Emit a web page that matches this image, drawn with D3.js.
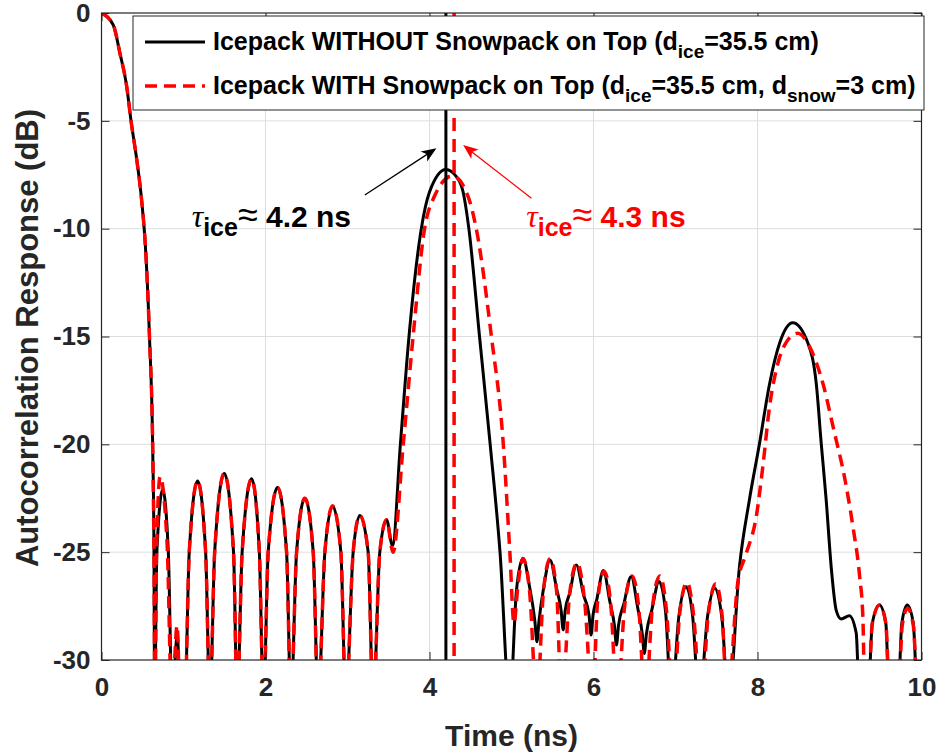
<!DOCTYPE html>
<html>
<head>
<meta charset="utf-8">
<script src="https://cdn.jsdelivr.net/npm/d3@7"></script>
<style>
body { margin: 0; background: #fff; }
svg text { font-family: "Liberation Sans", Arial, Helvetica, sans-serif; font-weight: bold; }
</style>
</head>
<body>
<div id="frame"></div>
<script>

// time axis (ns) and response (dB); -32 marks a null below the -30 floor
var timeNoSnow = [0, 0.144, 0.225, 0.307, 0.36, 0.43, 0.49, 0.54, 0.585, 0.625, 0.64, 0.648,
  0.675, 0.746, 0.815, 0.862, 0.924, 0.962,
  1.015, 1.07, 1.172, 1.27, 1.322, 1.38, 1.497, 1.61, 1.655,
  1.715, 1.831, 1.925, 1.975, 2.033, 2.147, 2.257, 2.31,
  2.379, 2.48, 2.582, 2.642, 2.724, 2.818, 2.919, 2.98,
  3.069, 3.15, 3.252, 3.313, 3.394, 3.476, 3.549,
  3.645, 3.75, 3.90, 4.0, 4.2, 4.33, 4.41, 4.48, 4.61, 4.74, 4.86, 4.98,
  5.06, 5.14, 5.22, 5.285, 5.31, 5.335, 5.39, 5.47, 5.55, 5.605, 5.63, 5.655, 5.71, 5.79, 5.88, 5.945, 5.97, 5.995,
  6.04, 6.12, 6.20, 6.255, 6.28, 6.305, 6.37, 6.46, 6.54, 6.595, 6.62, 6.645, 6.71, 6.80, 6.88, 6.95,
  7.04, 7.13, 7.21, 7.29, 7.39, 7.48, 7.57, 7.645,
  7.78, 7.90, 8.025, 8.147, 8.27, 8.43, 8.614, 8.717, 8.777, 8.838, 8.899, 8.96,
  9.02, 9.12, 9.204, 9.245, 9.345, 9.40, 9.487, 9.565, 9.61, 9.71, 9.76, 9.826, 9.90, 9.955, 10];
var dbNoSnow = [0, -0.56, -1.87, -3.4, -5.0, -6.8, -8.7, -11.1, -15.0, -20.3, -25, -32,
  -25, -22.1, -25, -32, -28.8, -32,
  -32, -25, -21.7, -25, -32, -25, -21.35, -25, -32,
  -25, -21.6, -25, -32, -25, -22.0, -25, -32,
  -25, -22.5, -25, -32, -25, -22.86, -25, -32,
  -25, -23.3, -25, -32, -25, -23.5, -24.7,
  -20, -15, -10, -8.3, -7.26, -7.6, -8.3, -10, -15, -20, -25, -32,
  -26.8, -25.28, -26.6, -28.2, -29.15, -28.2, -26.7, -25.36, -26.7, -27.7, -28.6, -27.7, -26.9, -25.6, -27.0, -27.9, -28.84, -27.9,
  -27.2, -25.85, -27.3, -28.4, -29.3, -28.4, -27.4, -26.13, -27.6, -28.8, -29.7, -28.8, -27.7, -26.36, -27.8, -32,
  -28.0, -26.6, -28.0, -32, -28.0, -26.67, -28.2, -32,
  -25.67, -22.6, -19.95, -17.2, -15.3, -14.36, -15.3, -17.2, -19.95, -22.6, -25.7, -27.7,
  -28.1, -27.95, -28.76, -32, -32, -28.3, -27.45, -28.3, -32, -32, -28.3, -27.45, -28.3, -32, -31];

var timeSnow = [0, 0.144, 0.225, 0.307, 0.36, 0.43, 0.49, 0.54, 0.585, 0.625, 0.64, 0.652,
  0.672, 0.715, 0.80, 0.858, 0.922, 0.96,
  1.015, 1.07, 1.172, 1.27, 1.322, 1.38, 1.497, 1.61, 1.655,
  1.715, 1.831, 1.925, 1.975, 2.033, 2.147, 2.257, 2.31,
  2.379, 2.48, 2.582, 2.642, 2.724, 2.818, 2.919, 2.98,
  3.069, 3.15, 3.252, 3.313, 3.394, 3.476, 3.555,
  3.68, 3.80, 3.94, 4.06, 4.28, 4.47, 4.57, 4.755, 4.90, 4.98, 5.03,
  5.08, 5.14, 5.22, 5.31, 5.39, 5.47, 5.55, 5.61, 5.71, 5.80, 5.89, 5.99,
  6.05, 6.13, 6.21, 6.29, 6.38, 6.47, 6.55, 6.63, 6.72, 6.81, 6.89, 6.97,
  7.05, 7.14, 7.22, 7.31, 7.40, 7.49, 7.57, 7.63,
  7.76, 7.86, 7.985, 8.066, 8.147, 8.249, 8.37, 8.49, 8.635, 8.797, 8.94, 9.06,
  9.163, 9.245, 9.285, 9.31, 9.345, 9.40, 9.49, 9.565, 9.615, 9.715, 9.765, 9.83, 9.90, 9.96, 10];
var dbSnow = [0, -0.56, -1.87, -3.4, -5.0, -6.8, -8.7, -11.1, -15.0, -20.3, -25, -32,
  -24.8, -21.5, -24.6, -32, -28.4, -32,
  -32, -25, -21.7, -25, -32, -25, -21.35, -25, -32,
  -25, -21.6, -25, -32, -25, -22.0, -25, -32,
  -25, -22.5, -25, -32, -25, -22.86, -25, -32,
  -25, -23.3, -25, -32, -25, -23.5, -25.0,
  -20, -15, -10, -8.5, -7.55, -8.5, -10, -15, -20, -25, -28.3,
  -26.5, -25.3, -26.8, -32, -26.8, -25.3, -26.8, -32, -26.9, -25.5, -27.2, -32,
  -27.3, -25.9, -27.4, -32, -27.5, -26.1, -27.5, -32, -27.5, -26.1, -27.7, -32,
  -27.9, -26.4, -27.9, -32, -27.9, -26.47, -28.0, -32,
  -26.4, -25.1, -23.35, -21.0, -18.25, -16.24, -15.16, -14.85, -15.47, -17.17, -19.49, -21.5,
  -23.8, -26.1, -28, -32, -32, -28.3, -27.45, -28.3, -32, -32, -28.4, -27.6, -28.4, -32, -31];

var xTicks = [0, 2, 4, 6, 8, 10];
var yTicks = [0, -5, -10, -15, -20, -25, -30];

// delay markers (ns) and the annotation arrows [t0, dB0, t1, dB1]
var tauNoSnow = 4.2, tauSnow = 4.3;
var arrowNoSnow = [3.211, -8.44, 4.085, -6.27];
var arrowSnow = [5.243, -8.59, 4.41, -6.12];
var labelNoSnow = [1.1, -9.92];
var labelSnow = [5.18, -9.92];

var W = 941, H = 756;
var pLeft = 101.5, pRight = 921.5, pTop = 13, pBottom = 660;
var axisColor = '#262626';

var svg = d3.select('#frame').append('svg').attr('width', W).attr('height', H);

var x = d3.scaleLinear().domain([0, 10]).range([pLeft, pRight]);
var y = d3.scaleLinear().domain([-30, 0]).range([pBottom, pTop]);

// grid
svg.append('g').selectAll('line').data(xTicks.slice(1, -1)).join('line')
  .attr('x1', d => x(d)).attr('x2', d => x(d)).attr('y1', pTop).attr('y2', pBottom)
  .attr('stroke', '#dedede').attr('stroke-width', 1);
svg.append('g').selectAll('line').data(yTicks.slice(1, -1)).join('line')
  .attr('y1', d => y(d)).attr('y2', d => y(d)).attr('x1', pLeft).attr('x2', pRight)
  .attr('stroke', '#dedede').attr('stroke-width', 1);

// curves
svg.append('clipPath').attr('id', 'plotclip').append('rect')
  .attr('x', pLeft).attr('y', pTop).attr('width', pRight - pLeft).attr('height', pBottom - pTop);

var line = d3.line().x(d => x(d[0])).y(d => y(d[1])).curve(d3.curveMonotoneX);
var plot = svg.append('g').attr('clip-path', 'url(#plotclip)');

plot.append('path').datum(d3.zip(timeNoSnow, dbNoSnow)).attr('d', line)
  .attr('fill', 'none').attr('stroke', '#000').attr('stroke-width', 3).attr('stroke-linejoin', 'round');
plot.append('path').datum(d3.zip(timeSnow, dbSnow)).attr('d', line)
  .attr('fill', 'none').attr('stroke', '#ff0000').attr('stroke-width', 3.5).attr('stroke-dasharray', '12,7');

plot.append('line').attr('x1', x(tauNoSnow)).attr('x2', x(tauNoSnow)).attr('y1', pTop).attr('y2', pBottom)
  .attr('stroke', '#000').attr('stroke-width', 3);
plot.append('line').attr('x1', x(tauSnow)).attr('x2', x(tauSnow)).attr('y1', pTop).attr('y2', pBottom)
  .attr('stroke', '#ff0000').attr('stroke-width', 3.5).attr('stroke-dasharray', '13,8');

// axes, ticks pointing inward on all four sides
function styleAxis(g) {
  g.select('.domain').remove();
  g.selectAll('.tick line').attr('stroke', axisColor).attr('stroke-width', 1);
  g.selectAll('.tick text').attr('fill', axisColor).style('font-size', '26px');
}
svg.append('g').attr('transform', 'translate(0,' + pBottom + ')')
  .call(d3.axisBottom(x).tickValues(xTicks).tickSize(-8).tickPadding(18).tickFormat(d3.format('d')))
  .call(styleAxis);
svg.append('g').attr('transform', 'translate(0,' + pTop + ')')
  .call(d3.axisTop(x).tickValues(xTicks).tickSize(-8).tickFormat(''))
  .call(styleAxis);
svg.append('g').attr('transform', 'translate(' + pLeft + ',0)')
  .call(d3.axisLeft(y).tickValues(yTicks).tickSize(-8).tickPadding(11).tickFormat(d => d === 0 ? '0' : '-' + Math.abs(d)))
  .call(styleAxis);
svg.append('g').attr('transform', 'translate(' + pRight + ',0)')
  .call(d3.axisRight(y).tickValues(yTicks).tickSize(-8).tickFormat(''))
  .call(styleAxis);

svg.append('rect').attr('x', pLeft).attr('y', pTop).attr('width', pRight - pLeft).attr('height', pBottom - pTop)
  .attr('fill', 'none').attr('stroke', axisColor).attr('stroke-width', 1.2);

svg.append('text').attr('x', (pLeft + pRight) / 2).attr('y', 746).attr('text-anchor', 'middle')
  .attr('fill', axisColor).style('font-size', '30px').text('Time (ns)');
svg.append('text').attr('transform', 'translate(38,338) rotate(-90)')
  .attr('text-anchor', 'middle').attr('fill', axisColor).style('font-size', '31px')
  .text('Autocorrelation Response (dB)');

// arrows
function arrow(a, colour) {
  var x0 = x(a[0]), y0 = y(a[1]), x1 = x(a[2]), y1 = y(a[3]);
  var ang = Math.atan2(y1 - y0, x1 - x0);
  var len = 15, half = 6;
  var bx = x1 - len * Math.cos(ang), by = y1 - len * Math.sin(ang);
  var nx = x1 - 0.75 * len * Math.cos(ang), ny = y1 - 0.75 * len * Math.sin(ang);
  svg.append('line').attr('x1', x0).attr('y1', y0).attr('x2', nx).attr('y2', ny)
    .attr('stroke', colour).attr('stroke-width', 1.3);
  svg.append('path')
    .attr('d', 'M' + x1 + ',' + y1 +
      'L' + (bx + half * Math.sin(ang)) + ',' + (by - half * Math.cos(ang)) +
      'L' + nx + ',' + ny +
      'L' + (bx - half * Math.sin(ang)) + ',' + (by + half * Math.cos(ang)) + 'Z')
    .attr('fill', colour);
}
arrow(arrowNoSnow, '#000');
arrow(arrowSnow, '#ff0000');

function tauLabel(pos, value, colour) {
  var t = svg.append('text').attr('x', x(pos[0])).attr('y', y(pos[1])).attr('fill', colour).style('font-size', '30px');
  t.append('tspan').text('τ').style('font-family', '"Liberation Serif", serif').style('font-style', 'italic')
    .style('font-weight', 'normal').style('font-size', '32px');
  t.append('tspan').text('ice').attr('dy', 9).style('font-size', '25px');
  t.append('tspan').text('≈').attr('dy', -9).style('font-weight', 'normal').style('font-size', '36px');
  t.append('tspan').text(' ' + value + ' ns');
}
tauLabel(labelNoSnow, '4.2', '#000');
tauLabel(labelSnow, '4.3', '#ff0000');

// legend
var lg = svg.append('g');
lg.append('rect').attr('x', 133).attr('y', 16).attr('width', 791).attr('height', 94)
  .attr('fill', '#fff').attr('stroke', axisColor).attr('stroke-width', 1);
lg.append('line').attr('x1', 145).attr('x2', 205).attr('y1', 42).attr('y2', 42)
  .attr('stroke', '#000').attr('stroke-width', 3);
lg.append('line').attr('x1', 145).attr('x2', 205).attr('y1', 86).attr('y2', 86)
  .attr('stroke', '#ff0000').attr('stroke-width', 3.5).attr('stroke-dasharray', '12,7');

var row1 = lg.append('text').attr('x', 213).attr('y', 50).attr('fill', '#000').style('font-size', '25px');
row1.append('tspan').text('Icepack WITHOUT Snowpack on Top (d');
row1.append('tspan').text('ice').attr('dy', 8).style('font-size', '19px');
row1.append('tspan').text('=35.5 cm)').attr('dy', -8);

var row2 = lg.append('text').attr('x', 213).attr('y', 94).attr('fill', '#000').style('font-size', '25px');
row2.append('tspan').text('Icepack WITH Snowpack on Top (d');
row2.append('tspan').text('ice').attr('dy', 8).style('font-size', '19px');
row2.append('tspan').text('=35.5 cm, d').attr('dy', -8);
row2.append('tspan').text('snow').attr('dy', 8).style('font-size', '19px');
row2.append('tspan').text('=3 cm)').attr('dy', -8);

</script>
</body>
</html>
